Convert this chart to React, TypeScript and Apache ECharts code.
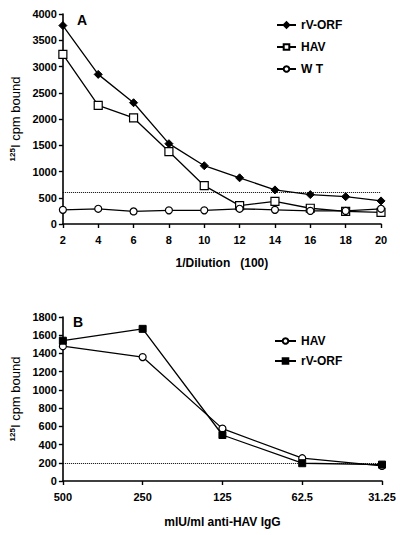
import React, { useEffect, useRef } from "react";
import * as echarts from "echarts";

// Panel A data
const dilutions = [2, 4, 6, 8, 10, 12, 14, 16, 18, 20];
const aRvOrf = [3780, 2850, 2310, 1530, 1110, 880, 650, 560, 520, 440];
const aHav = [3230, 2260, 2020, 1380, 730, 350, 430, 300, 240, 220];
const aWt = [270, 290, 240, 260, 260, 290, 270, 250, 250, 290];
const aCutoff = 600;

// Panel B data
const igGLevels = ["500", "250", "125", "62.5", "31.25"];
const bHav = [1480, 1360, 575, 250, 165];
const bRvOrf = [1540, 1670, 505, 195, 180];
const bCutoff = 190;

const FONT = "Liberation Sans, Arial, sans-serif";

export default function App() {
  const ref = useRef<HTMLDivElement>(null);
  useEffect(() => {
    const chart = echarts.init(ref.current!, null, { renderer: "svg" });
    const axisLine = { show: true, lineStyle: { color: "#000", width: 1.6 } };
    const axisTick = { show: true, length: 4, lineStyle: { color: "#000", width: 1.4 } };
    const axisLabel = {
      color: "#000",
      fontWeight: "bold" as const,
      fontSize: 11,
      fontFamily: FONT,
      formatter: (v: any) => String(v),
    };
    const yName = {
      name: "{s|125}{n|I cpm bound}",
      nameLocation: "middle" as const,
      nameRotate: 90,
      nameGap: 38,
      nameTextStyle: {
        color: "#000",
        fontFamily: FONT,
        rich: {
          s: { fontSize: 8, fontWeight: "bold" as const, fontFamily: FONT, color: "#000", verticalAlign: "top" as const, padding: [0, 0, 6, 0] },
          n: { fontSize: 13, fontFamily: FONT, color: "#000" },
        },
      },
    };
    const lineStyle = { color: "#000", width: 1.3 };
    const markLine = (v: number) => ({
      silent: true,
      symbol: "none",
      label: { show: false },
      lineStyle: { color: "#000", type: "dotted" as const, width: 1 },
      data: [{ yAxis: v }],
    });
    const open = { color: "#fff", borderColor: "#000", borderWidth: 1.2 };
    const filled = { color: "#000", borderColor: "#000", borderWidth: 1 };
    const legendText = { color: "#000", fontWeight: "bold" as const, fontSize: 12, fontFamily: FONT };

    chart.setOption({
      animation: false,
      backgroundColor: "#fff",
      textStyle: { fontFamily: FONT },
      grid: [
        { left: 59, right: 19, top: 14, height: 210 },
        { left: 59, right: 18, top: 317, height: 164 },
      ],
      xAxis: [
        {
          type: "value",
          gridIndex: 0,
          min: 2,
          max: 20,
          interval: 2,
          axisLine,
          axisTick,
          axisLabel: { ...axisLabel, margin: 10 },
          splitLine: { show: false },
          name: "1/Dilution   (100)",
          nameLocation: "middle",
          nameGap: 33,
          nameTextStyle: { color: "#000", fontWeight: "bold", fontSize: 12, fontFamily: FONT },
        },
        {
          type: "category",
          gridIndex: 1,
          data: igGLevels,
          boundaryGap: false,
          axisLine,
          axisTick: { ...axisTick, alignWithLabel: true },
          axisLabel: { ...axisLabel, margin: 10 },
          name: "mlU/ml anti-HAV IgG",
          nameLocation: "middle",
          nameGap: 35,
          nameTextStyle: { color: "#000", fontWeight: "bold", fontSize: 12, fontFamily: FONT },
        },
      ],
      yAxis: [
        {
          type: "value",
          gridIndex: 0,
          min: 0,
          max: 4000,
          interval: 500,
          axisLine,
          axisTick,
          axisLabel: { ...axisLabel, margin: 6 },
          splitLine: { show: false },
          ...yName,
        },
        {
          type: "value",
          gridIndex: 1,
          min: 0,
          max: 1800,
          interval: 200,
          axisLine,
          axisTick,
          axisLabel: { ...axisLabel, margin: 6 },
          splitLine: { show: false },
          ...yName,
        },
      ],
      legend: [
        {
          data: ["rV-ORF", "HAV", "W T"],
          orient: "vertical",
          left: 271,
          top: 14,
          itemWidth: 19,
          itemHeight: 7,
          itemGap: 10,
          textStyle: legendText,
        },
        {
          data: ["HAV ", "rV-ORF "],
          orient: "vertical",
          left: 269,
          top: 330,
          itemWidth: 21,
          itemHeight: 7,
          itemGap: 8,
          formatter: (n: string) => n.trim(),
          textStyle: legendText,
        },
      ],
      series: [
        {
          name: "rV-ORF",
          type: "line",
          xAxisIndex: 0,
          yAxisIndex: 0,
          data: dilutions.map((d, i) => [d, aRvOrf[i]]),
          symbol: "diamond",
          symbolSize: 8,
          itemStyle: filled,
          lineStyle,
          markLine: markLine(aCutoff),
        },
        {
          name: "HAV",
          type: "line",
          xAxisIndex: 0,
          yAxisIndex: 0,
          data: dilutions.map((d, i) => [d, aHav[i]]),
          symbol: "rect",
          symbolSize: 8,
          itemStyle: open,
          lineStyle,
        },
        {
          name: "W T",
          type: "line",
          xAxisIndex: 0,
          yAxisIndex: 0,
          data: dilutions.map((d, i) => [d, aWt[i]]),
          symbol: "circle",
          symbolSize: 7,
          itemStyle: open,
          lineStyle,
        },
        {
          name: "HAV ",
          type: "line",
          xAxisIndex: 1,
          yAxisIndex: 1,
          data: bHav,
          symbol: "circle",
          symbolSize: 7,
          itemStyle: open,
          lineStyle,
          markLine: markLine(bCutoff),
          z: 2,
        },
        {
          name: "rV-ORF ",
          type: "line",
          xAxisIndex: 1,
          yAxisIndex: 1,
          data: bRvOrf,
          symbol: "rect",
          symbolSize: 7,
          itemStyle: filled,
          lineStyle,
          z: 3,
        },
      ],
      graphic: [
        {
          type: "text",
          left: 77,
          top: 13,
          style: { text: "A", fontSize: 14, fontWeight: "bold", fontFamily: FONT, fill: "#000" },
        },
        {
          type: "text",
          left: 73,
          top: 315,
          style: { text: "B", fontSize: 14, fontWeight: "bold", fontFamily: FONT, fill: "#000" },
        },
      ],
    });
    return () => chart.dispose();
  }, []);
  return (
    <div
      ref={ref}
      style={{ position: "fixed", left: 0, top: 0, width: 400, height: 535, background: "#fff" }}
    />
  );
}
